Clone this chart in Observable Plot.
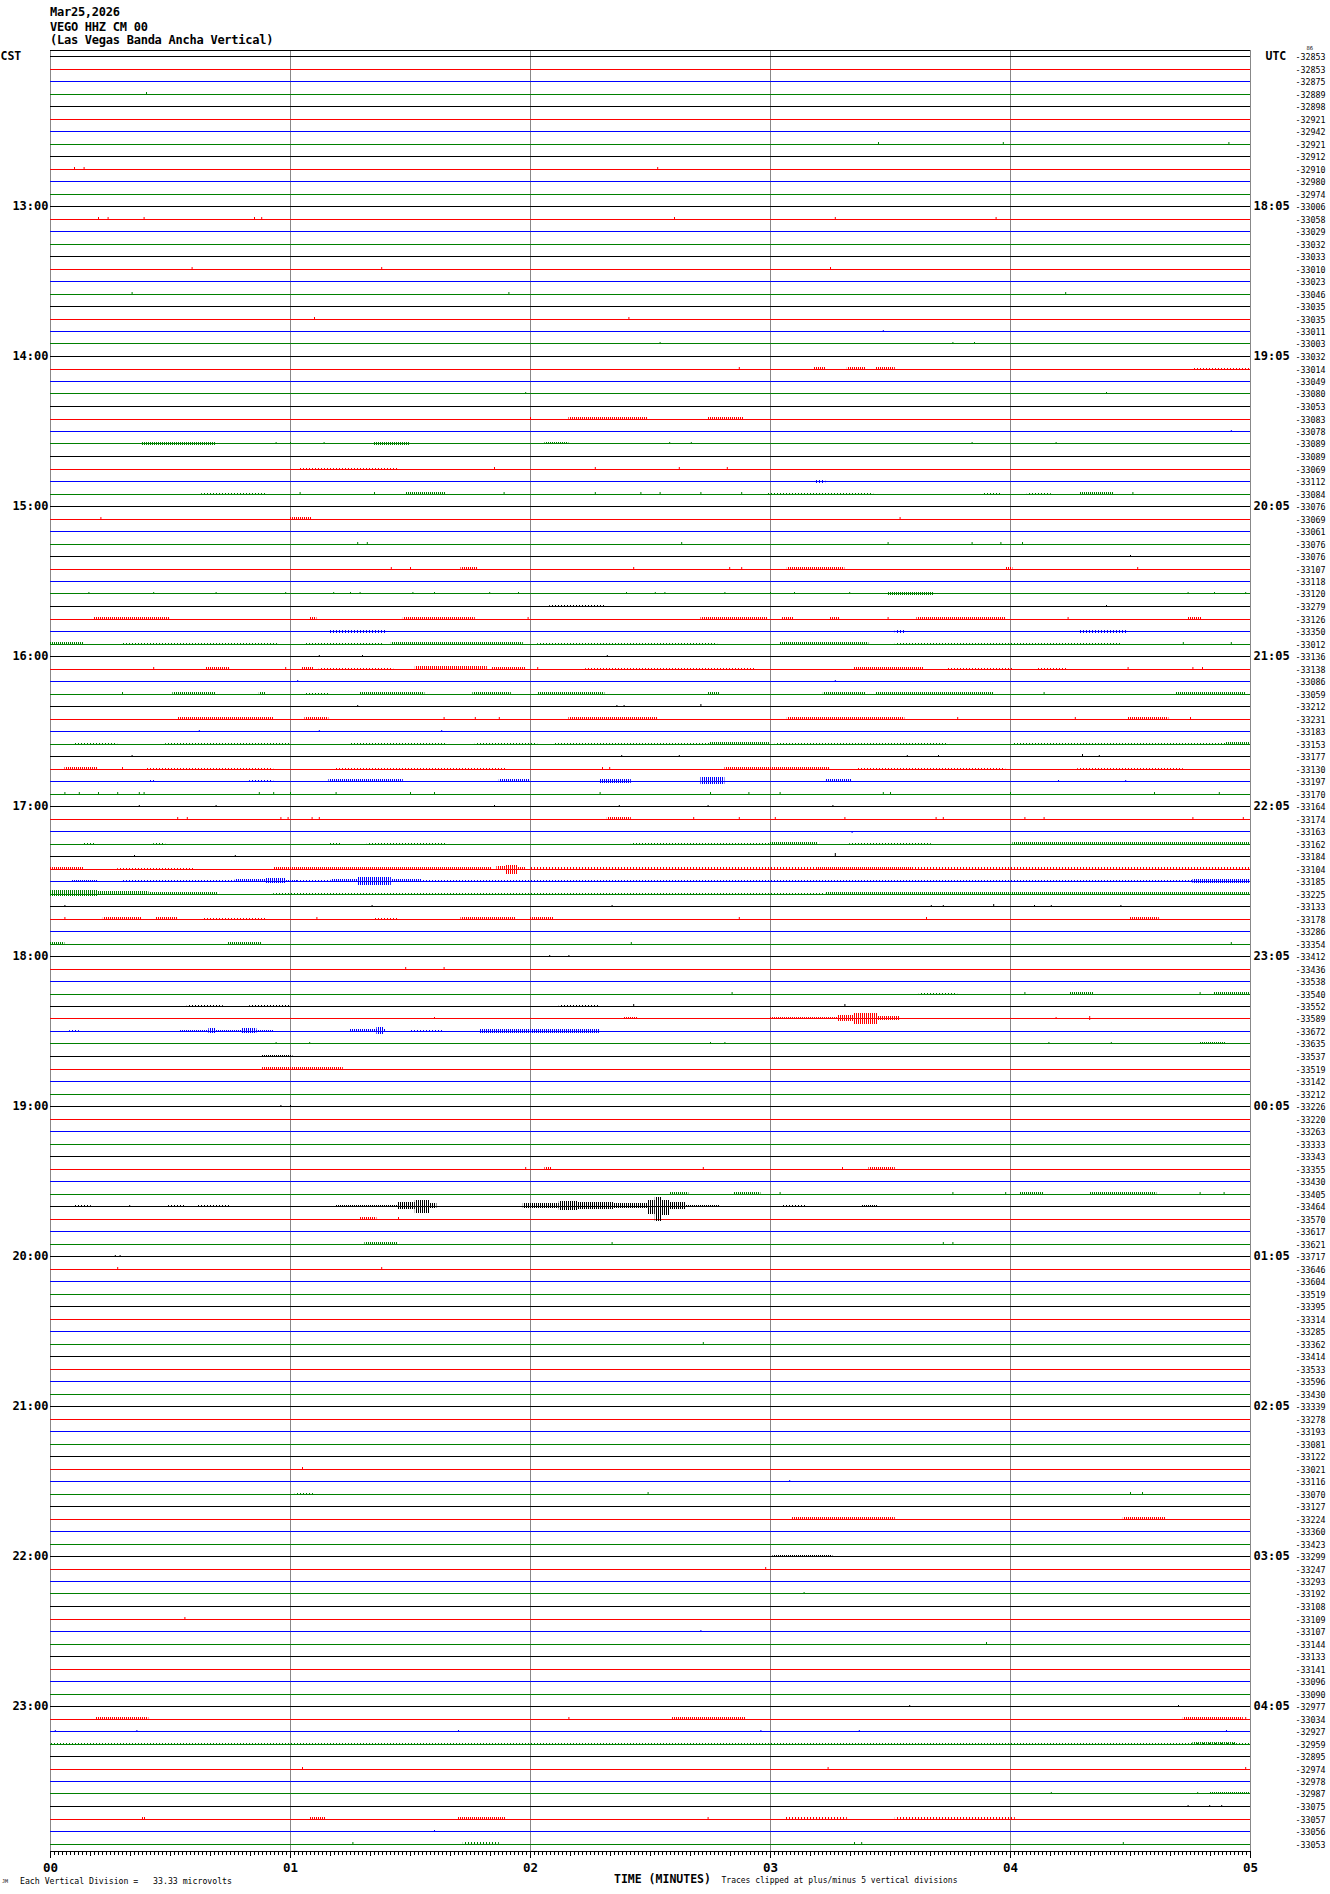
<!DOCTYPE html>
<html><head><meta charset="utf-8">
<script src="https://cdn.jsdelivr.net/npm/d3@7"></script>
<script src="https://cdn.jsdelivr.net/npm/@observablehq/plot@0.6"></script>
<style>
body{margin:0;background:#fff;}
#page{position:relative;width:1330px;height:1894px;overflow:hidden;font-family:"DejaVu Sans Mono",monospace;color:#000;}
.t{position:absolute;white-space:pre;line-height:1;}
.h{font-size:12px;font-weight:bold;letter-spacing:-0.25px;}
.s{font-size:8.2px;}
</style></head><body><div id="page">
<div class="t h" style="left:50px;top:6px">Mar25,2026</div>
<div class="t h" style="left:50px;top:20.6px">VEGO HHZ CM 00</div>
<div class="t h" style="left:50px;top:34.4px">(Las Vegas Banda Ancha Vertical)</div>
<div id="chart" style="position:absolute;left:0;top:50px"></div>
<div class="t" style="left:2px;top:1879px;font-size:5px">JM</div>
<div class="t s" style="left:20px;top:1876.5px">Each Vertical Division =   33.33 microvolts</div>
<div class="t" style="left:614px;top:1873.5px;font-size:11.5px;font-weight:bold">TIME (MINUTES)</div>
<div class="t" style="left:721.5px;top:1876.5px;font-size:8px">Traces clipped at plus/minus 5 vertical divisions</div>
</div>
<script>
// ---- data ----
const rowValues = [
 -32853,-32853,-32875,-32889,-32898,-32921,-32942,-32921,-32912,-32910,-32980,-32974,
 -33006,-33058,-33029,-33032,-33033,-33010,-33023,-33046,-33035,-33035,-33011,-33003,
 -33032,-33014,-33049,-33080,-33053,-33083,-33078,-33089,-33089,-33069,-33112,-33084,
 -33076,-33069,-33061,-33076,-33076,-33107,-33118,-33120,-33279,-33126,-33350,-33012,
 -33136,-33138,-33086,-33059,-33212,-33231,-33183,-33153,-33177,-33130,-33197,-33170,
 -33164,-33174,-33163,-33162,-33184,-33104,-33185,-33225,-33133,-33178,-33286,-33354,
 -33412,-33436,-33538,-33540,-33552,-33589,-33672,-33635,-33537,-33519,-33142,-33212,
 -33226,-33220,-33263,-33333,-33343,-33355,-33430,-33405,-33464,-33570,-33617,-33621,
 -33717,-33646,-33604,-33519,-33395,-33314,-33285,-33362,-33414,-33533,-33596,-33430,
 -33339,-33278,-33193,-33081,-33122,-33021,-33116,-33070,-33127,-33224,-33360,-33423,
 -33299,-33247,-33293,-33192,-33108,-33109,-33107,-33144,-33133,-33141,-33096,-33090,
 -32977,-33034,-32927,-32959,-32895,-32974,-32978,-32987,-33075,-33057,-33056,-33053
];
const leftHours = ["13:00","14:00","15:00","16:00","17:00","18:00","19:00","20:00","21:00","22:00","23:00"];
const rightHours = ["18:05","19:05","20:05","21:05","22:05","23:05","00:05","01:05","02:05","03:05","04:05"];
const minuteLabels = ["00","01","02","03","04","05"];
const traceColors = ["#000000","#ff0000","#0000ff","#008000"];

// bursts: [row, start minute, end minute, amplitude up, amplitude down] (vertical divisions)
const bursts = [
 [25,3.18,3.23,0.15],[25,3.32,3.40,0.15],[25,3.44,3.52,0.12],[25,4.76,5.0,0.08],
 [27,3.49,3.90,0.08],
 [29,2.16,2.49,0.15],[29,2.74,2.89,0.15],
 [31,0.38,0.69,0.12],[31,1.35,1.50,0.12],[31,2.06,2.16,0.1],
 [33,1.04,1.45,0.08],
 [34,3.19,3.23,0.05,0.15],
 [35,0.63,0.90,0.08],[35,1.48,1.65,0.12],[35,2.99,3.43,0.08],[35,3.89,3.96,0.08],[35,4.07,4.17,0.08],[35,4.29,4.43,0.12],
 [37,1.0,1.09,0.1],
 [41,1.71,1.78,0.15],[41,3.07,3.31,0.15],[41,3.98,4.01,0.12],
 [43,3.49,3.68,0.15],
 [44,2.08,2.31,0.08],
 [45,0.18,0.50,0.15],[45,1.08,1.11,0.12],[45,1.47,1.77,0.12],[45,2.71,2.99,0.15],[45,3.05,3.10,0.12],[45,3.25,3.29,0.12],[45,3.61,3.98,0.15],[45,4.74,4.80,0.1],
 [46,1.16,1.40,0.05,0.15],[46,3.52,3.56,0.05,0.12],[46,4.29,4.49,0.05,0.15],
 [47,0,0.14,0.12],[47,0.30,0.95,0.07],[47,1.06,1.39,0.08],[47,1.42,1.97,0.15],[47,2.03,2.78,0.07],[47,3.04,3.41,0.15],[47,3.52,4.46,0.07],
 [49,0.65,0.75,0.1],[49,1.05,1.10,0.1],[49,1.12,1.43,0.08],[49,1.52,1.82,0.18],[49,1.84,1.98,0.1],[49,2.23,2.94,0.07],[49,3.35,3.64,0.12],[49,3.74,4.01,0.08],[49,4.11,4.24,0.08],
 [51,0.51,0.69,0.1],[51,0.87,0.90,0.1],[51,1.06,1.16,0.08],[51,1.29,1.56,0.1],[51,1.76,1.92,0.1],[51,2.03,2.31,0.15],[51,2.74,2.79,0.1],[51,3.22,3.40,0.1],[51,3.44,3.93,0.15],[51,4.69,4.98,0.15],
 [53,0.53,0.93,0.15],[53,1.06,1.16,0.12],[53,2.16,2.53,0.12],[53,3.07,3.56,0.15],[53,4.49,4.66,0.12],
 [55,0.10,0.28,0.07],[55,0.48,1.0,0.07],[55,1.25,1.65,0.07],[55,1.77,2.03,0.07],[55,2.10,2.75,0.08],[55,2.75,3.0,0.12],[55,3.02,3.74,0.08],[55,4.01,4.90,0.07],[55,4.90,5.0,0.12],
 [57,0.06,0.20,0.1],[57,0.40,0.93,0.07],[57,1.19,1.90,0.08],[57,2.81,3.25,0.15],[57,3.36,3.98,0.08],[57,4.28,4.72,0.08],
 [58,0.41,0.44,0.08],[58,0.83,0.93,0.08],[58,1.16,1.47,0.15],[58,1.87,2.0,0.15],[58,2.29,2.42,0.2],[58,2.71,2.81,0.3],[58,3.23,3.34,0.15],
 [61,2.32,2.42,0.1],
 [63,0.14,0.19,0.08],[63,0.43,0.48,0.08],[63,1.16,1.21,0.08],[63,1.32,1.65,0.07],[63,2.42,3.0,0.07],[63,3.0,3.2,0.1],[63,3.33,3.67,0.08],[63,4.01,5.0,0.1],
 [65,0,0.14,0.12],[65,0.28,0.6,0.07],[65,0.93,1.84,0.1],[65,1.86,1.90,0.2],[65,1.90,1.95,0.3,0.45],[65,1.95,1.98,0.15],[65,2.0,3.2,0.09],[65,3.2,3.6,0.12],[65,3.6,5.0,0.09],
 [66,0.09,0.2,0.1],[66,0.3,0.77,0.05],[66,0.77,0.9,0.15],[66,0.9,0.98,0.25],[66,0.98,1.03,0.12],[66,1.03,1.17,0.08],[66,1.17,1.28,0.15],[66,1.28,1.42,0.35,0.3],[66,1.42,1.55,0.15],[66,1.55,4.76,0.07],[66,4.76,5.0,0.18],
 [67,0,0.2,0.3],[67,0.2,0.41,0.18],[67,0.41,0.7,0.1],[67,0.93,3.23,0.07],[67,3.23,4.1,0.14],[67,4.1,5.0,0.1],
 [69,0.22,0.38,0.1],[69,0.44,0.53,0.12],[69,0.64,0.9,0.08],[69,1.35,1.45,0.08],[69,1.71,1.94,0.15],[69,2.0,2.1,0.1],[69,4.5,4.62,0.12],
 [71,0,0.06,0.1],[71,0.74,0.88,0.12],
 [75,3.62,3.78,0.08],[75,4.25,4.35,0.1],[75,4.85,5.0,0.1],
 [76,0.57,0.72,0.08],[76,0.83,1.0,0.08],[76,2.12,2.29,0.08],
 [77,2.39,2.45,0.1],[77,2.66,2.88,0.08],[77,3.0,3.28,0.1],[77,3.28,3.35,0.25],[77,3.35,3.45,0.45,0.4],[77,3.45,3.54,0.2],[77,3.62,3.67,0.08],[77,4.40,4.90,0.08],
 [78,0.08,0.12,0.08],[78,0.54,0.93,0.12],[78,0.66,0.69,0.2],[78,0.8,0.86,0.25],[78,1.25,1.40,0.15],[78,1.36,1.39,0.35],[78,1.5,1.64,0.06],[78,1.79,2.29,0.18],
 [79,0.16,0.29,0.06],[79,4.79,4.90,0.1],
 [80,0.88,1.01,0.12],
 [81,0.88,1.22,0.15],
 [89,2.06,2.09,0.15,0],[89,3.41,3.52,0.15],
 [91,2.58,2.66,0.1],[91,2.85,2.96,0.1],[91,4.04,4.14,0.1],[91,4.33,4.61,0.1],
 [92,0.10,0.17,0.08],[92,0.49,0.56,0.08],[92,0.61,0.75,0.08],[92,1.19,1.45,0.12],[92,1.45,1.52,0.3],[92,1.52,1.58,0.5,0.55],[92,1.58,1.61,0.25],[92,1.97,2.12,0.25],[92,2.12,2.2,0.4,0.3],[92,2.2,2.35,0.35],[92,2.35,2.49,0.25],[92,2.49,2.52,0.5,0.6],[92,2.52,2.55,0.75,1.2],[92,2.55,2.58,0.5,0.7],[92,2.58,2.65,0.3],[92,2.65,2.79,0.12],[92,3.05,3.15,0.08],[92,3.38,3.45,0.1],
 [93,1.29,1.36,0.12],
 [95,1.31,1.45,0.15],
 [115,1.02,1.10,0.08],
 [117,3.09,3.52,0.1],[117,4.47,4.65,0.1],
 [120,3.01,3.26,0.1],
 [133,0.19,0.41,0.12],[133,2.59,2.90,0.1],[133,4.72,4.97,0.1],
 [135,0,5,0.07],[135,4.76,4.94,0.1],
 [139,4.83,5.0,0.1],
 [141,0.38,0.40,0.1],[141,1.08,1.15,0.1],[141,1.70,1.90,0.1],[141,3.06,3.32,0.08],[141,3.52,4.02,0.08],
 [143,1.72,1.87,0.08]
];

// spikes: [row, minute, amplitude] (negative = downward)
const spikes = [
 [3,0.40],[7,3.45],[7,3.97,0.12],[7,4.91],[9,0.10],[9,0.14],[9,2.53],
 [13,0.20],[13,0.24],[13,0.39],[13,0.85,0.12],[13,0.88,0.12],[13,2.60],[13,3.27],[13,3.94],
 [17,0.59],[17,1.38],[17,3.25],[19,0.34],[19,1.91],[19,4.23],[21,1.10],[21,2.41],[22,3.47],
 [23,2.54],[23,3.76],[23,3.85],
 [25,2.87],[27,1.98],[27,4.40],[29,2.00],[30,4.92],
 [31,0.94],[31,1.00],[31,1.14],[31,2.58],[31,2.67],[31,3.84],[31,4.19],
 [33,1.85],[33,2.27],[33,2.62],[33,2.82],
 [35,1.04],[35,1.35],[35,1.89],[35,2.27],[35,2.46],[35,2.54],[35,2.71],[35,2.88],[35,4.51],
 [37,0.21],[37,3.54],
 [39,1.28],[39,1.32],[39,2.63],[39,3.49],[39,3.84],[39,3.96],[39,4.05],
 [40,4.50],
 [41,1.42],[41,1.50],[41,2.43],[41,2.83],[41,2.88],[41,4.53],
 [43,0.16],[43,0.43],[43,0.69],[43,0.98],[43,1.18],[43,1.25],[43,1.29],[43,1.51],[43,1.60],[43,1.83],[43,1.95],[43,2.40],[43,2.52],[43,2.56],[43,2.81],[43,3.00],[43,3.10],[43,3.33],[43,4.74],[43,4.85],[43,4.98],
 [44,4.40],
 [45,1.99],[45,3.49],[45,4.24],
 [47,4.72],[47,4.92],
 [48,1.12],[48,1.30],[48,2.32],
 [49,0.43],[49,0.98],[49,2.03],[49,4.49],[49,4.76],[49,4.80],
 [50,1.03],[50,3.27],
 [51,0.30],[51,4.14],
 [52,1.28],[52,2.36],[52,2.39],[52,2.71,0.15],
 [53,1.64],[53,1.77],[53,1.87],[53,3.78],[53,4.27],[53,4.75],
 [54,0.62],[54,1.12],[54,1.63],
 [56,0.34],[56,2.38],[56,2.62],[56,3.57],[56,3.70],[56,4.30,0.15],[56,4.37],
 [57,0.30],[57,2.30],[57,2.33],
 [58,4.20],[58,4.48],
 [59,0.06],[59,0.12],[59,0.20],[59,0.28],[59,0.37],[59,0.39],[59,0.87],[59,0.93],[59,1.00],[59,1.19],[59,1.50],[59,1.60],[59,2.29],[59,2.75],[59,2.91],[59,3.04],[59,3.47],[59,3.50],[59,4.00],[59,4.60],[59,4.87],
 [60,0.37],[60,0.69],[60,1.85],[60,2.37],[60,2.74],[60,3.26],
 [61,0.53],[61,0.57],[61,0.96,0.12],[61,0.99],[61,1.09],[61,1.12],[61,2.68,0.12],[61,2.87],[61,3.02],[61,3.31],[61,3.69],[61,3.72],[61,4.06],[61,4.14],[61,4.76],[61,4.97],
 [62,3.34,-0.12],
 [64,0.35],[64,0.77],[64,3.27,0.22],
 [68,0.06],[68,1.34],[68,2.34],[68,3.67],[68,3.72],[68,3.93,0.15],[68,4.10],[68,4.17],[68,4.46],
 [69,0.06],[69,1.11],[69,2.87],[69,3.65],
 [71,2.42],[71,4.92],
 [72,2.08],[72,2.16],
 [73,1.48],[73,1.64,0.15],
 [75,2.84],[75,4.06],[75,4.79],
 [76,2.43,0.2],[76,3.31,0.12],
 [77,1.60],[77,4.19],[77,4.33,0.2],
 [79,0.94],[79,1.08],[79,2.75],[79,2.81],[79,4.16],[79,4.42],
 [84,0.96],[84,1.00],
 [89,1.98],[89,2.72],[89,3.30],
 [91,3.04],[91,3.76],[91,3.98],[91,4.79],[91,4.89],
 [92,0.33],
 [93,1.45],
 [95,2.34],[95,3.72],[95,3.76],
 [96,0.27,0.12],[96,0.29,0.12],
 [97,0.28],[97,1.38],
 [103,2.72],[113,1.05,0.15],[114,3.08],[115,2.49],[115,4.50],[115,4.55],
 [121,2.98,0.15],[123,3.14],[125,0.56],[126,2.71],[127,3.90],
 [132,3.58],[132,4.70],
 [133,2.16],[133,4.98],
 [134,0.02],[134,0.36],[134,1.70],[134,2.96],[134,3.37],[134,4.90],
 [137,1.05],[137,3.24],[137,4.98],
 [139,4.17],[139,4.78],
 [140,4.74],[140,4.83],[140,4.88],
 [141,2.74],
 [142,1.60],
 [143,1.26],[143,3.35],[143,3.38],[143,4.47]
];

// ---- build ----
const nRows = rowValues.length;
const rows = rowValues.map((v, i) => ({row: i, value: v, color: traceColors[i % 4]}));
const topY = -0.48;          // frame top
const axisY = 143.6;         // time axis line
const seconds = d3.range(0, 301);
const colorOf = r => traceColors[r % 4];
const up = d => d[3];
const down = d => (d[4] !== undefined ? d[4] : d[3] * 0.7);
const sparse = bursts.filter(d => d[3] < 0.1);
const dense = bursts.filter(d => d[3] >= 0.1);
const FONT = "DejaVu Sans Mono";

const chart = Plot.plot({
  width: 1330,
  height: 1824,
  marginTop: 0, marginBottom: 0, marginLeft: 0, marginRight: 0,
  x: {domain: [0, 5], range: [50, 1250], axis: null},
  y: {domain: [0, nRows - 1], range: [6, 6 + 12.5 * (nRows - 1)], round: true, axis: null},
  color: {type: "identity"},
  style: {background: "white", fontFamily: FONT, overflow: "visible"},
  marks: [
    // minute grid lines / frame sides
    Plot.ruleX(minuteLabels, {x: (d, i) => i, y1: () => topY, y2: () => axisY, stroke: "#888", strokeWidth: 1}),
    // trace baselines
    Plot.ruleY(rows, {y: "row", x1: () => 0, x2: () => 5, stroke: "color", strokeWidth: 1}),
    // noise bursts (hatched so they read as dense wiggles)
    Plot.rect(sparse, {x1: d => d[1], x2: d => d[2], y1: d => d[0] - up(d), y2: d => d[0] + down(d),
      fill: d => `url(#hs${d[0] % 4})`}),
    Plot.rect(dense, {x1: d => d[1], x2: d => d[2], y1: d => d[0] - up(d), y2: d => d[0] + down(d),
      fill: d => `url(#hd${d[0] % 4})`}),
    // single spikes
    Plot.ruleX(spikes, {x: d => d[1],
      y1: d => d[0] - Math.max(d[2] ?? 0.1, 0),
      y2: d => d[0] + ((d[2] ?? 0.1) < 0 ? -(d[2]) : (d[2] ?? 0.1) * 0.4),
      stroke: d => colorOf(d[0]), strokeWidth: 1}),
    // top border
    Plot.ruleY([topY], {x1: () => 0, x2: () => 5, stroke: "black"}),
    // time axis
    Plot.ruleY([axisY], {x1: () => 0, x2: () => 5, stroke: "black"}),
    Plot.ruleX(seconds, {x: s => s / 60, y1: () => axisY,
      y2: s => axisY + (s % 60 === 0 ? 7 : s % 10 === 0 ? 5 : 3.5) / 12.5, stroke: "black"}),
    Plot.text(minuteLabels, {x: (d, i) => i, y: () => axisY + 16 / 12.5, text: d => d,
      fontWeight: "bold", fontSize: 12.5, fontFamily: FONT}),
    // left local-time labels
    Plot.text(leftHours, {x: () => 0, y: (d, i) => 12 * (i + 1), text: d => d, dx: -2, textAnchor: "end",
      fontWeight: "bold", fontSize: 12, fontFamily: FONT}),
    Plot.text(["CST"], {x: () => 0, y: () => 0, text: d => d, dx: -50, textAnchor: "start",
      fontWeight: "bold", fontSize: 11.5, fontFamily: FONT}),
    // right UTC labels
    Plot.text(rightHours, {x: () => 5, y: (d, i) => 12 * (i + 1), text: d => d, dx: 3, textAnchor: "start",
      fontWeight: "bold", fontSize: 12, fontFamily: FONT}),
    Plot.text(["UTC"], {x: () => 5, y: () => 0, text: d => d, dx: 15, textAnchor: "start",
      fontWeight: "bold", fontSize: 11.5, fontFamily: FONT}),
    // right per-trace values
    Plot.text(rows, {x: () => 5, y: "row", text: d => String(d.value), dx: 45, dy: 1, textAnchor: "start",
      fontSize: 8.3, fontFamily: FONT}),
    Plot.text(["86"], {x: () => 5, y: () => 0, text: d => d, dx: 56, dy: -8, textAnchor: "start",
      fontSize: 5.5, fontFamily: FONT})
  ]
});

// hatch patterns: dense (1px on / 1px off) and sparse (1px on / 2px off)
const ns = "http://www.w3.org/2000/svg";
const defs = document.createElementNS(ns, "defs");
traceColors.forEach((c, k) => {
  [["hd", 2], ["hs", 3]].forEach(([p, w]) => {
    const pat = document.createElementNS(ns, "pattern");
    pat.setAttribute("id", p + k);
    pat.setAttribute("patternUnits", "userSpaceOnUse");
    pat.setAttribute("width", w);
    pat.setAttribute("height", 40);
    const r = document.createElementNS(ns, "rect");
    r.setAttribute("x", 0); r.setAttribute("y", 0);
    r.setAttribute("width", 1); r.setAttribute("height", 40);
    r.setAttribute("fill", c);
    pat.appendChild(r);
    defs.appendChild(pat);
  });
});
chart.insertBefore(defs, chart.firstChild);
document.getElementById("chart").appendChild(chart);
</script>
</body></html>
